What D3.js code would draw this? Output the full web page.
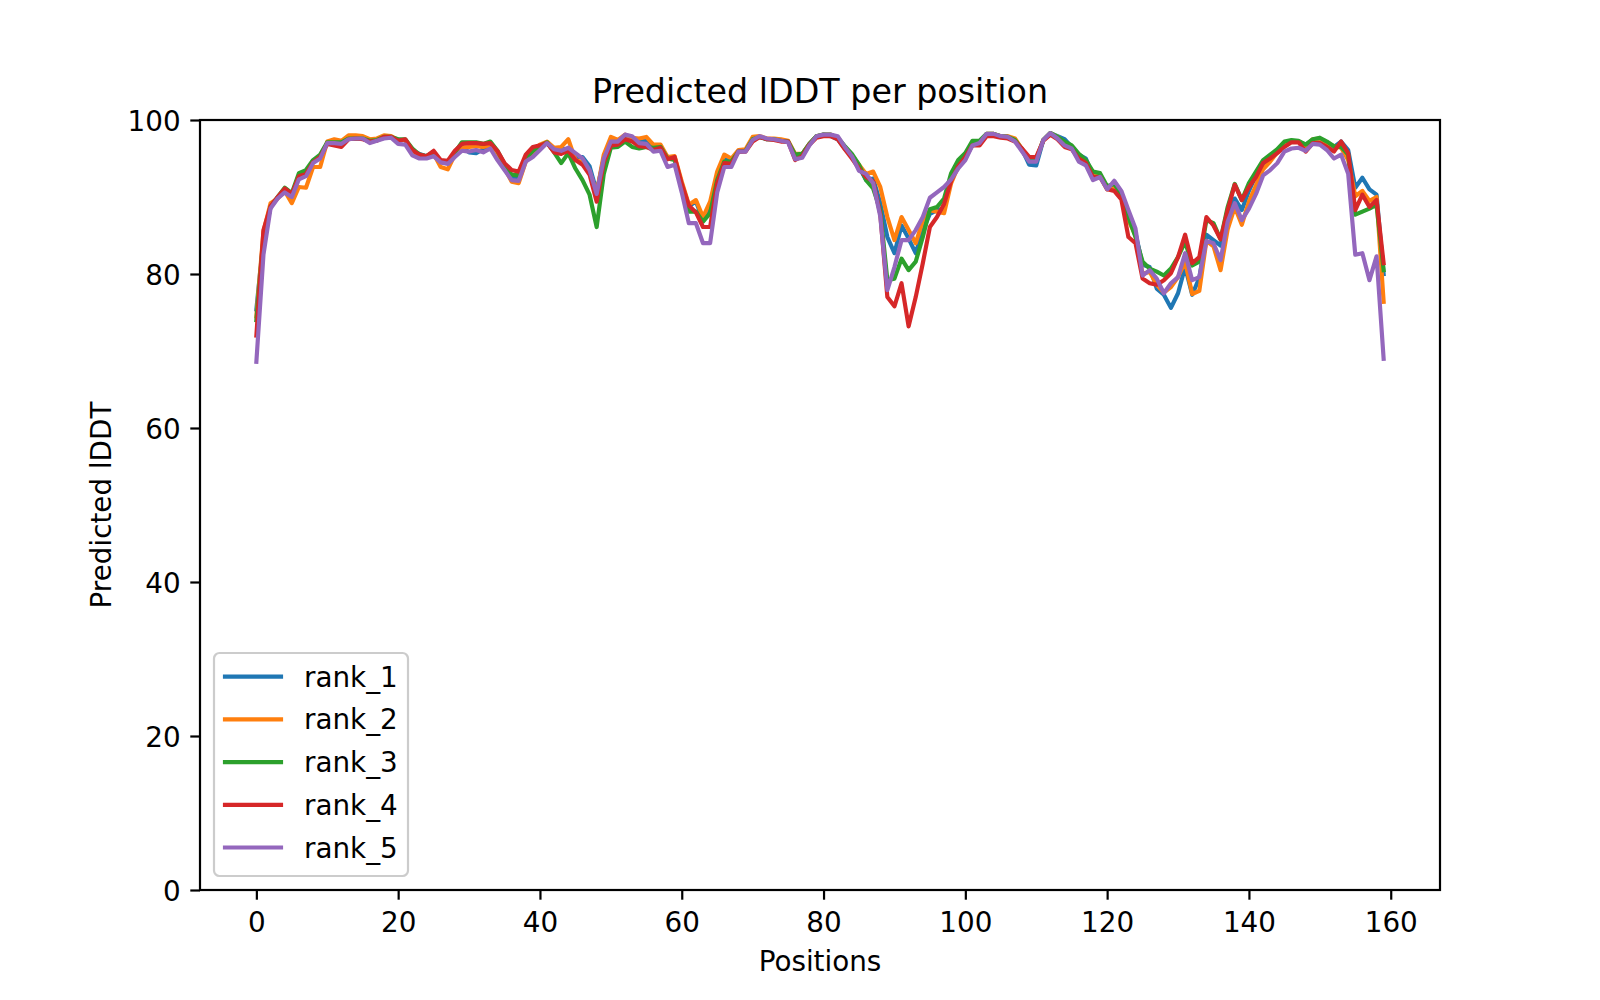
<!DOCTYPE html>
<html>
<head>
<meta charset="utf-8">
<script src="https://cdn.jsdelivr.net/npm/d3@7"></script>
<style>
  body { margin: 0; background: #fff; }
  text { font-family: "DejaVu Sans", sans-serif; }
</style>
</head>
<body>
<svg id="chart" width="1600" height="1000"></svg>
<script>
// predicted lDDT for each model rank, one value per position
const rank1 = [
  75.4, 84.5, 88.7, 89.9, 91, 90.3, 92.8, 93.2, 94.7, 95.3,
  97, 97.2, 97, 97.6, 97.6, 97.6, 97.2, 97.4, 97.7, 97.8,
  97.4, 97.4, 96, 95.6, 95.3, 95.8, 94.6, 94.5, 95.6, 96.5,
  95.8, 95.7, 96.2, 96.8, 95.6, 94, 92.5, 92.3, 94.8, 96,
  96.5, 97, 96, 96.3, 96.2, 95.2, 95.2, 94, 90.7, 95,
  97.2, 97.3, 97.8, 97.5, 97.2, 97.3, 96.4, 96.5, 95, 95,
  91.7, 88.8, 89.4, 87, 88.5, 92.6, 95, 94.6, 96, 96,
  97.6, 97.8, 97.5, 97.5, 97.3, 97.2, 95.3, 95.6, 96.9, 97.9,
  98.1, 97.9, 97.5, 96.3, 95.3, 93.9, 92.2, 92.4, 89.2, 84.8,
  82.7, 86.3, 84.6, 82.7, 85.7, 87.8, 88.3, 88.5, 92.3, 94,
  95, 96.9, 97, 98.1, 98.1, 97.9, 97.7, 97.4, 96.2, 94.2,
  94.1, 97.4, 98.3, 97.9, 97.5, 96.5, 95.5, 95, 92.8, 92.8,
  91.2, 91.4, 90.2, 87.4, 85.3, 81.2, 80.9, 78.1, 77.3, 75.6,
  77.5, 80.9, 77.3, 79.5, 85.1, 84.4, 83.7, 87.4, 89.8, 88.3,
  90.8, 92.8, 94, 95, 95.9, 97, 97.2, 97.2, 96.8, 97.4,
  97.5, 97, 96.5, 97.2, 96.1, 91.2, 92.5, 91, 90.3, 80
];
const rank2 = [
  74.5, 85.5, 89.2, 89.8, 90.8, 89.2, 91.3, 91.2, 93.9, 93.9,
  97.2, 97.5, 97.3, 98, 98, 97.9, 97.5, 97.6, 98, 97.9,
  97.4, 97.4, 96, 95.3, 95.2, 95.6, 93.9, 93.6, 95.5, 96.4,
  96.5, 96.6, 96.5, 96.7, 95.5, 93.8, 92, 91.8, 94.6, 95.6,
  96.8, 97.2, 96.4, 96.5, 97.5, 94.8, 94.5, 93.3, 90.5, 95.5,
  97.8, 97.4, 98.1, 97.7, 97.6, 97.8, 96.8, 96.8, 95.2, 95.3,
  92, 89, 89.6, 87.4, 89.4, 93.3, 95.5, 95, 96.1, 96.2,
  97.8, 97.9, 97.6, 97.6, 97.5, 97.3, 95.6, 95.6, 96.9, 97.9,
  98.1, 98.1, 97.7, 96.5, 95.4, 94.2, 93, 93.3, 91.3, 87.4,
  84.4, 87.4, 85.7, 84, 86.9, 88.3, 88.1, 87.9, 91.8, 94,
  95.1, 97, 97, 98.2, 98.2, 97.9, 97.9, 97.6, 96.2, 95,
  95, 97.4, 98.3, 97.8, 97, 96.5, 95, 94.5, 93, 92.8,
  91, 91.4, 90, 87, 85, 80, 80.3, 78.6, 77.6, 78.3,
  79.6, 81.6, 77.4, 77.8, 84.3, 83.6, 80.5, 85.8, 88.7, 86.4,
  89.4, 91.5, 93.6, 94.6, 95.8, 97, 97.2, 97.2, 96.5, 97.5,
  97.6, 97, 96.6, 96.4, 94.8, 90.1, 90.8, 89.5, 90, 76.4
];
const rank3 = [
  74, 84.5, 88.7, 90, 91.2, 90.5, 93.1, 93.5, 94.8, 95.5,
  97.1, 97.1, 97.1, 97.6, 97.6, 97.6, 97.3, 97.4, 97.8, 97.8,
  97.5, 97.5, 96.3, 95.5, 95.3, 95.8, 94.6, 94.5, 95.8, 97.1,
  97.1, 97.1, 96.9, 97.2, 96, 94.3, 92.9, 92.8, 95, 96,
  96.6, 97.1, 95.8, 94.4, 95.7, 93.7, 92.2, 90.3, 86.1, 93,
  96.4, 96.5, 97.2, 96.5, 96.3, 96.5, 96.4, 96.5, 95, 94.8,
  91.5, 88.1, 88.1, 86.8, 87.9, 92.2, 94.6, 94.6, 95.9, 96,
  97.5, 97.8, 97.5, 97.5, 97.3, 97.2, 95.5, 95.6, 96.9, 97.9,
  98.1, 98.1, 97.7, 96.6, 95.6, 94.2, 92.2, 91.1, 88.3, 79.2,
  79.4, 82, 80.5, 81.6, 84.8, 88.4, 88.7, 89.8, 93.1, 94.8,
  95.7, 97.3, 97.3, 98.2, 98.2, 97.9, 97.8, 97.4, 96.2, 95,
  94.8, 97.4, 98.3, 97.8, 97.2, 96.7, 95.6, 94.8, 93.3, 93.1,
  91.4, 91.7, 90.3, 87.4, 84.8, 81.6, 80.7, 80.3, 79.8, 80.7,
  82.2, 84.2, 81.1, 81.6, 87, 86.6, 84.5, 88.7, 91.7, 89.6,
  91.8, 93.3, 94.8, 95.5, 96.2, 97.2, 97.4, 97.3, 96.8, 97.5,
  97.7, 97.2, 96.6, 96.5, 95.5, 87.7, 88.1, 88.5, 89, 80.5
];
const rank4 = [
  72, 85.7, 88.8, 90, 91.1, 90.4, 92.7, 93, 94.5, 95.2,
  96.9, 96.7, 96.5, 97.5, 97.6, 97.5, 97.2, 97.3, 97.8, 97.8,
  97.3, 97.5, 96.1, 95.5, 95.3, 96, 94.8, 94.7, 96, 96.9,
  97, 97, 96.9, 97, 96, 94.4, 93.5, 93.3, 95.5, 96.5,
  96.7, 97, 95.8, 95.6, 96, 94.8, 94.2, 92.9, 89.4, 94.5,
  96.7, 96.8, 97.5, 97.2, 96.6, 96.5, 96.1, 96.4, 94.9, 95.2,
  91.7, 88.9, 88, 86.1, 86.1, 91.8, 94.4, 94.3, 95.9, 95.9,
  97.2, 97.8, 97.5, 97.4, 97.2, 97.2, 94.8, 95.3, 96.8, 97.7,
  97.9, 97.9, 97.5, 96.2, 95, 93.7, 92.6, 92, 87.8, 77,
  75.8, 78.8, 73.2, 77, 81.4, 86.1, 87.4, 89.1, 92.1, 94,
  95.2, 96.7, 96.7, 97.9, 97.9, 97.7, 97.6, 97.2, 96.3, 95.2,
  95.2, 97.3, 98.1, 97.5, 96.5, 96.2, 95, 94.4, 92.6, 92.6,
  91, 90.8, 89.7, 84.8, 84, 79.4, 78.8, 78.6, 79.2, 80.1,
  82.2, 85.1, 81.4, 82.2, 87.4, 86.3, 84.5, 88.3, 91.6, 89.6,
  91.3, 92.6, 94.4, 95, 95.7, 96.5, 97.1, 97.1, 95.9, 97,
  97, 96.5, 95.9, 97.2, 95.7, 88.3, 90.3, 88.7, 89.6, 81.4
];
const rank5 = [
  68.6, 82.5, 88.5, 89.8, 90.6, 90, 92.3, 92.7, 94.4, 95,
  97, 97, 96.9, 97.5, 97.6, 97.6, 97, 97.3, 97.6, 97.7,
  96.9, 96.8, 95.4, 95, 95, 95.3, 94.5, 94.3, 95.2, 96,
  95.9, 96.1, 95.8, 96.3, 94.8, 93.5, 92.2, 92.1, 94.6, 95.2,
  96.1, 97, 96.2, 96, 96.4, 95.7, 95, 93.5, 90.4, 95,
  97.2, 97.2, 98.1, 97.9, 97, 96.9, 95.9, 96, 93.9, 94.2,
  90.6, 86.6, 86.6, 84, 84, 90.6, 93.9, 93.9, 95.9, 95.9,
  97.4, 97.9, 97.6, 97.5, 97.3, 97.1, 94.9, 95.1, 96.7, 97.9,
  98.1, 98.1, 97.9, 96.5, 95.3, 93.4, 93, 91.8, 87.5, 77.9,
  80.9, 84.4, 84.4, 85.7, 87.4, 89.9, 90.6, 91.3, 92.3, 93.7,
  94.8, 96.7, 97, 98.2, 98.2, 97.9, 97.8, 97.2, 95.9, 94.6,
  94.6, 97.4, 98.3, 97.6, 96.7, 96.3, 94.6, 94.1, 92.2, 92.6,
  91, 92.1, 90.8, 88.3, 85.9, 79.8, 80.5, 79.4, 77.5, 78.8,
  79.6, 82.7, 79.2, 79.6, 84.3, 84, 81.8, 86.8, 89.2, 87,
  88.5, 90.4, 92.8, 93.5, 94.4, 95.9, 96.3, 96.4, 96, 96.9,
  96.8, 96.1, 95, 95.5, 93, 82.5, 82.7, 79.2, 82.3, 69
];

const seriesNames = ["rank_1", "rank_2", "rank_3", "rank_4", "rank_5"];
const seriesValues = [rank1, rank2, rank3, rank4, rank5];
const colors = ["#1f77b4", "#ff7f0e", "#2ca02c", "#d62728", "#9467bd"];
const xTicks = [0, 20, 40, 60, 80, 100, 120, 140, 160];
const yTicks = [0, 20, 40, 60, 80, 100];

// axes box (matplotlib defaults for an 8x5 inch figure at 200 dpi)
const axLeft = 200, axRight = 1440, axTop = 120, axBottom = 890;
const fontSize = 27.8;
const lw = 4.17;

const svg = d3.select("#chart");
svg.append("rect").attr("width", 1600).attr("height", 1000).attr("fill", "#fff");

const n = rank1.length;
const pad = (n - 1) * 0.05;
const x = d3.scaleLinear().domain([-pad, n - 1 + pad]).range([axLeft, axRight]);
const y = d3.scaleLinear().domain([0, 100]).range([axBottom, axTop]);

// lines
const line = d3.line()
  .x((d, i) => x(i))
  .y((d) => y(d));

const plot = svg.append("g");
seriesValues.forEach((vals, k) => {
  plot.append("path")
    .datum(vals)
    .attr("d", line)
    .attr("fill", "none")
    .attr("stroke", colors[k])
    .attr("stroke-width", lw)
    .attr("stroke-linejoin", "round")
    .attr("stroke-linecap", "square");
});

// X axis
const xAxis = svg.append("g")
  .attr("transform", "translate(0," + axBottom + ")")
  .call(d3.axisBottom(x).tickValues(xTicks).tickSize(9.7).tickPadding(13));
xAxis.select(".domain").remove();
xAxis.selectAll(".tick line").attr("stroke", "#000").attr("stroke-width", 2.2);
xAxis.selectAll(".tick text")
  .attr("font-size", fontSize)
  .attr("font-family", "DejaVu Sans")
  .attr("fill", "#000");

// Y axis
const yAxis = svg.append("g")
  .attr("transform", "translate(" + axLeft + ",0)")
  .call(d3.axisLeft(y).tickValues(yTicks).tickSize(9.7).tickPadding(9.7));
yAxis.select(".domain").remove();
yAxis.selectAll(".tick line").attr("stroke", "#000").attr("stroke-width", 2.2);
yAxis.selectAll(".tick text")
  .attr("font-size", fontSize)
  .attr("font-family", "DejaVu Sans")
  .attr("fill", "#000")
  .attr("dy", "0.36em");

// frame
svg.append("rect")
  .attr("x", axLeft).attr("y", axTop)
  .attr("width", axRight - axLeft).attr("height", axBottom - axTop)
  .attr("fill", "none")
  .attr("stroke", "#000")
  .attr("stroke-width", 2.2);

// title and axis labels
svg.append("text")
  .attr("x", (axLeft + axRight) / 2).attr("y", 103)
  .attr("text-anchor", "middle")
  .attr("font-size", 33.3)
  .text("Predicted lDDT per position");

svg.append("text")
  .attr("x", (axLeft + axRight) / 2).attr("y", 971)
  .attr("text-anchor", "middle")
  .attr("font-size", fontSize)
  .text("Positions");

svg.append("text")
  .attr("transform", "translate(111," + (axTop + axBottom) / 2 + ") rotate(-90)")
  .attr("text-anchor", "middle")
  .attr("font-size", fontSize)
  .text("Predicted lDDT");

// legend, lower left
const legend = svg.append("g");
legend.append("rect")
  .attr("x", 214).attr("y", 653)
  .attr("width", 194).attr("height", 223)
  .attr("rx", 5.5)
  .attr("fill", "#fff").attr("fill-opacity", 0.8)
  .attr("stroke", "#cccccc").attr("stroke-width", 2.2);

seriesNames.forEach((name, k) => {
  const ly = 676.7 + k * 42.7;
  legend.append("line")
    .attr("x1", 225).attr("x2", 281)
    .attr("y1", ly).attr("y2", ly)
    .attr("stroke", colors[k])
    .attr("stroke-width", lw)
    .attr("stroke-linecap", "square");
  legend.append("text")
    .attr("x", 304).attr("y", ly + 10)
    .attr("font-size", fontSize)
    .text(name);
});
</script>
</body>
</html>
